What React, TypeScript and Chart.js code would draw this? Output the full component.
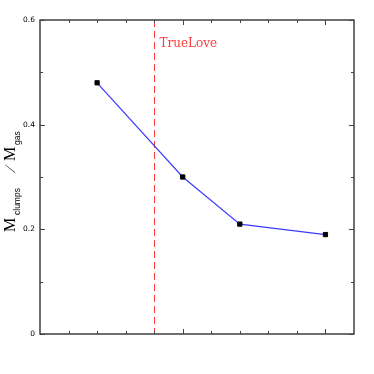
import React, { useEffect, useRef } from "react";
import { Chart, registerables } from "chart.js";

Chart.register(...registerables);

// ---- data ----
const xValues = [2, 5, 7, 10];
const clumpFractions = [0.48, 0.3, 0.21, 0.19];
const xAxisRange = [0, 11];
const yAxisRange = [0, 0.6];
const yMajorTicks = [0, 0.2, 0.4, 0.6];
const yMinorTicks = [0.1, 0.3, 0.5];
const xMinorTicks = [1, 2, 3, 4, 6, 7, 8, 9];
const xMajorTicks = [5, 10];
const trueLoveX = 4;
const markerLabel = "TrueLove";
const yLabelMain = "M";
const yLabelSub1 = "clumps";
const yLabelSlash = "/";
const yLabelSub2 = "gas";

const RED = "#ff3c3c";
const BLUE = "rgb(60,60,255)";

const framePlugin = {
  id: "frameAndLabels",
  beforeDatasetsDraw(chart: any) {
    const { ctx, chartArea: a, scales } = chart;
    const x = scales.x;
    const px = Math.round(x.getPixelForValue(trueLoveX)) + 0.5;
    ctx.save();
    ctx.strokeStyle = RED;
    ctx.lineWidth = 1;
    ctx.setLineDash([7, 4]);
    ctx.beginPath();
    ctx.moveTo(px, a.top);
    ctx.lineTo(px, a.bottom);
    ctx.stroke();
    ctx.setLineDash([]);
    ctx.fillStyle = RED;
    ctx.font = '12px "DejaVu Serif"';
    ctx.textAlign = "left";
    ctx.textBaseline = "alphabetic";
    ctx.fillText(markerLabel, px + 5, a.top + 27);
    ctx.restore();
  },
  afterDraw(chart: any) {
    const { ctx, chartArea: a, scales } = chart;
    const x = scales.x;
    const y = scales.y;
    ctx.save();
    // frame
    ctx.strokeStyle = "#222";
    ctx.lineWidth = 1.3;
    ctx.strokeRect(a.left, a.top, a.right - a.left, a.bottom - a.top);
    // ticks
    ctx.strokeStyle = "#444";
    ctx.lineWidth = 1;
    const hTick = (v: number, len: number) => {
      const py = Math.round(y.getPixelForValue(v)) + 0.5;
      ctx.beginPath();
      ctx.moveTo(a.left, py);
      ctx.lineTo(a.left + len, py);
      ctx.moveTo(a.right, py);
      ctx.lineTo(a.right - len, py);
      ctx.stroke();
    };
    const vTick = (v: number, len: number) => {
      const px = Math.round(x.getPixelForValue(v)) + 0.5;
      ctx.beginPath();
      ctx.moveTo(px, a.bottom);
      ctx.lineTo(px, a.bottom - len);
      ctx.moveTo(px, a.top);
      ctx.lineTo(px, a.top + len);
      ctx.stroke();
    };
    yMajorTicks.forEach((v) => hTick(v, 5));
    yMinorTicks.forEach((v) => hTick(v, 3));
    xMajorTicks.forEach((v) => vTick(v, 5));
    xMinorTicks.forEach((v) => vTick(v, 3));

    // y axis title: M_clumps / M_gas
    const cy = (a.top + a.bottom) / 2;
    ctx.translate(15, cy + 55);
    ctx.rotate(-Math.PI / 2);
    ctx.fillStyle = "#000";
    ctx.textAlign = "left";
    ctx.textBaseline = "alphabetic";
    ctx.font = '16px "Liberation Serif"';
    ctx.fillText(yLabelMain, 0, 0);
    ctx.font = '8.5px "Liberation Sans"';
    ctx.fillText(yLabelSub1, 17, 4.5);
    // slanted slash
    ctx.save();
    ctx.translate(59, 0);
    ctx.transform(1, 0, -0.45, 1, 0, 0);
    ctx.font = '15px "Liberation Serif"';
    ctx.fillText(yLabelSlash, 0, 0);
    ctx.restore();
    ctx.font = '16px "Liberation Serif"';
    ctx.fillText(yLabelMain, 71, 0);
    ctx.font = '8.5px "Liberation Sans"';
    ctx.fillText(yLabelSub2, 87, 4.5);
    ctx.restore();
  },
};

export default function App() {
  const canvasRef = useRef<HTMLCanvasElement | null>(null);

  useEffect(() => {
    const canvas = canvasRef.current;
    if (!canvas) return;
    const chart = new Chart(canvas, {
      type: "line",
      data: {
        datasets: [
          {
            data: xValues.map((xv, i) => ({ x: xv, y: clumpFractions[i] })),
            borderColor: BLUE,
            borderWidth: 1.2,
            pointStyle: "rect",
            pointRadius: 3,
            pointBorderWidth: 1,
            pointBackgroundColor: "#000",
            pointBorderColor: "#000",
            tension: 0,
            fill: false,
          },
        ],
      },
      options: {
        animation: false,
        responsive: false,
        devicePixelRatio: 1,
        layout: { padding: { left: 0, top: 20, right: 20, bottom: 40 } },
        plugins: {
          legend: { display: false },
          tooltip: { enabled: false },
        },
        scales: {
          x: {
            type: "linear",
            min: xAxisRange[0],
            max: xAxisRange[1],
            display: false,
          },
          y: {
            type: "linear",
            min: yAxisRange[0],
            max: yAxisRange[1],
            grid: { display: false, drawTicks: false },
            border: { display: false },
            afterFit: (scale: any) => {
              scale.width = 40;
            },
            afterBuildTicks: (scale: any) => {
              scale.ticks = yMajorTicks.map((v) => ({ value: v }));
            },
            ticks: {
              padding: 5,
              color: "#000",
              font: { family: '"DejaVu Sans"', size: 7.5 },
              callback: (v: any) => (Number(v) === 0 ? "0" : Number(v).toFixed(1)),
            },
          },
        },
      },
      plugins: [framePlugin],
    });
    return () => chart.destroy();
  }, []);

  return (
    <div style={{ position: "fixed", left: 0, top: 0, width: 374, height: 374, background: "#fff" }}>
      <canvas ref={canvasRef} width={374} height={374} style={{ width: 374, height: 374 }} />
    </div>
  );
}
